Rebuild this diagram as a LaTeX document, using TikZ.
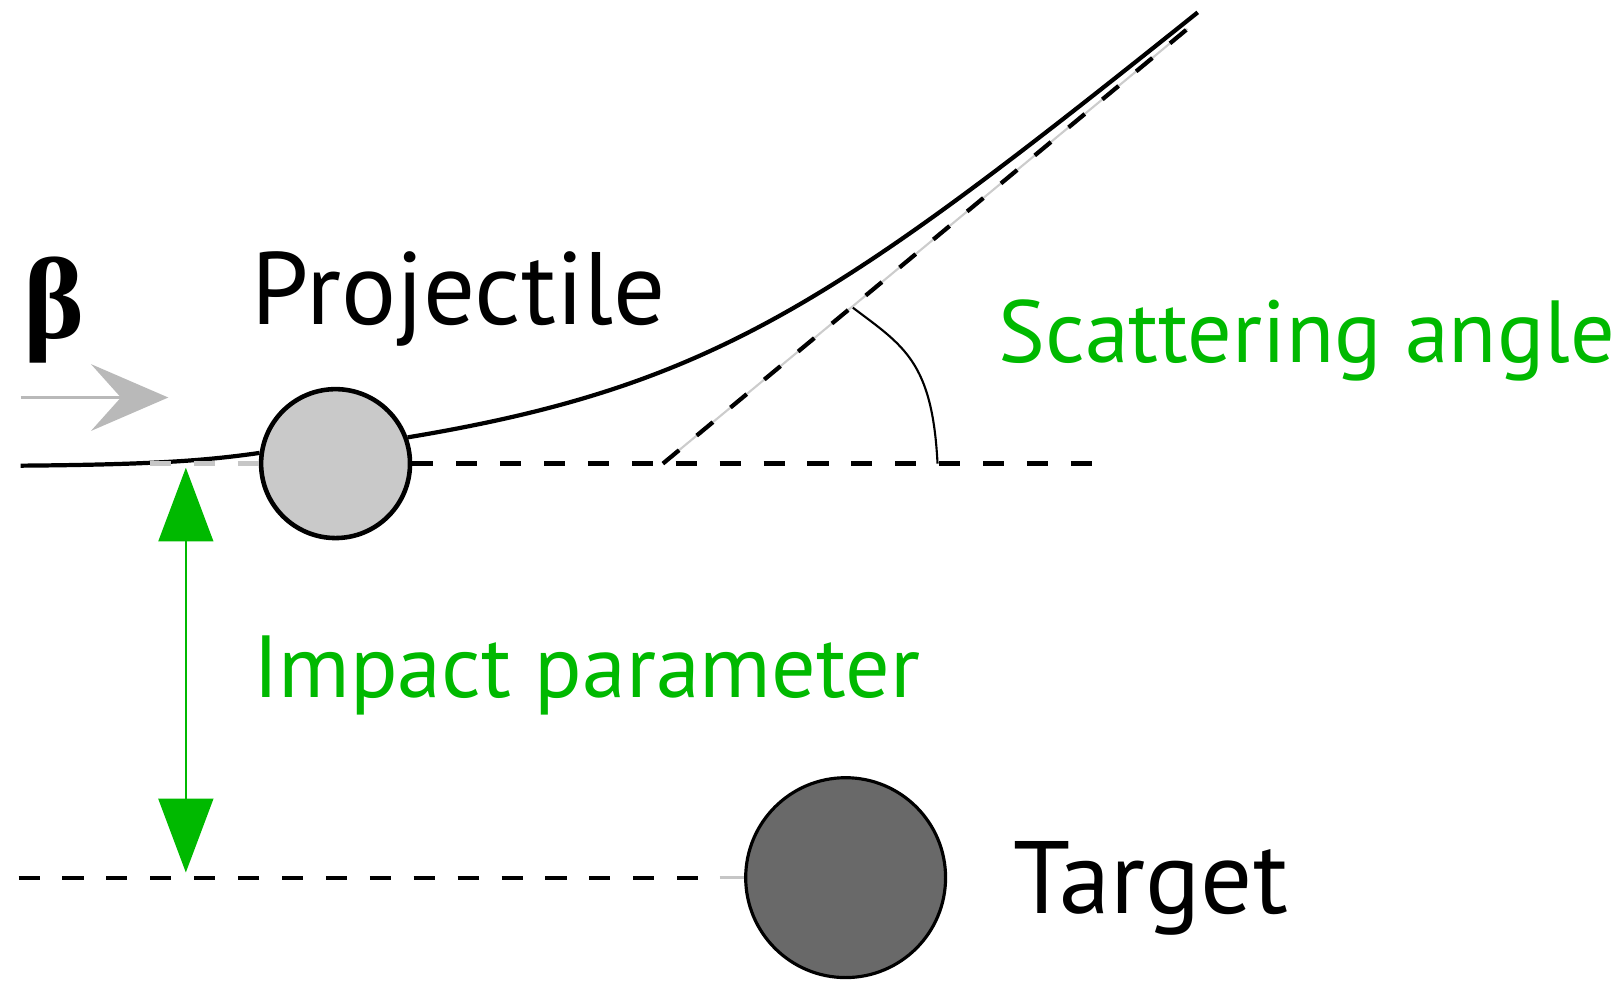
\documentclass[tikz,border=0pt]{standalone}
\usepackage{fontspec}
\setmainfont{PT Sans}
\newfontfamily\betafont{Liberation Serif}
\usetikzlibrary{positioning, arrows.meta}
\definecolor{impgreen}{RGB}{0,185,0}

\begin{document}
\begin{tikzpicture}[x=0.10331mm, y=-0.10331mm,
     node distance = 6.4mm and 6.4mm,
       line width = 1.2pt,
        lbl/.style = {font=\fontsize{29.3}{34}\selectfont, inner sep=0pt, anchor=base west},
       glbl/.style = {font=\fontsize{25.1}{30}\selectfont, inner sep=0pt, anchor=base west, text=impgreen},
      dline/.style = {dash pattern=on 6pt off 6.5pt},
       ball/.style = {circle, draw, inner sep=0pt}
                        ]
\useasboundingbox (0,0) rectangle (1568,951);
% the two particles
\node (proj) [ball, fill=black!21, minimum size=14.9mm, line width=1.3pt] at (325,449) {};
\node (targ) [ball, fill=black!59, minimum size=20mm, line width=0.9pt] at (819,850) {};
\coordinate (start)  at (20,451);
\coordinate (end)    at (1160,12);
\coordinate (kink)   at (642,449);
\coordinate (tip)    at (1150,28);
\coordinate (angtop) at (826,298);
\coordinate (angbot) at (908,449);
% trajectory
\draw (start) .. controls (150,450) and (200,446) .. (proj.172);
\draw (proj.20) .. controls (693,374) and (810,292) .. (end);
\draw[dline, gray!45] (145,449) -- (proj.west);
\draw[dline] (proj.east) -- (1060,449);
\draw[gray!40, line width=0.6pt] (kink) -- (tip);
\draw[dline] (kink) -- (tip);
\draw[line width=0.6pt] (angtop) .. controls (875,335) and (903,350) .. (angbot);
% target line
\draw[dline] (18,850) -- (697,850);
\draw[gray!45, line width=0.8pt] (697,850) -- (targ.west);
% arrows
\draw[gray!55, line width=0.7pt, -{Stealth[length=22pt,width=19pt,inset=8.5pt]}] (20,385) -- (163,385);
\draw[impgreen, line width=0.6pt, {Triangle[width=15.6pt,length=21pt]}-{Triangle[width=15.6pt,length=21pt]}] (180,453) -- (180,845);
% labels
\node (beta) [font=\betafont\bfseries\fontsize{33}{38}\selectfont, inner sep=0pt] at (52,300) {β};
\node (projlbl) [lbl] at (242,314) {Projectile};
\node (scatlbl) [glbl] at (965,351) {Scattering angle};
\node (implbl)  [glbl] at (243,676) {Impact parameter};
\node (targlbl) [lbl, anchor=west, right=of targ, yshift=-1.1mm] {Target};
\end{tikzpicture}
\end{document}
